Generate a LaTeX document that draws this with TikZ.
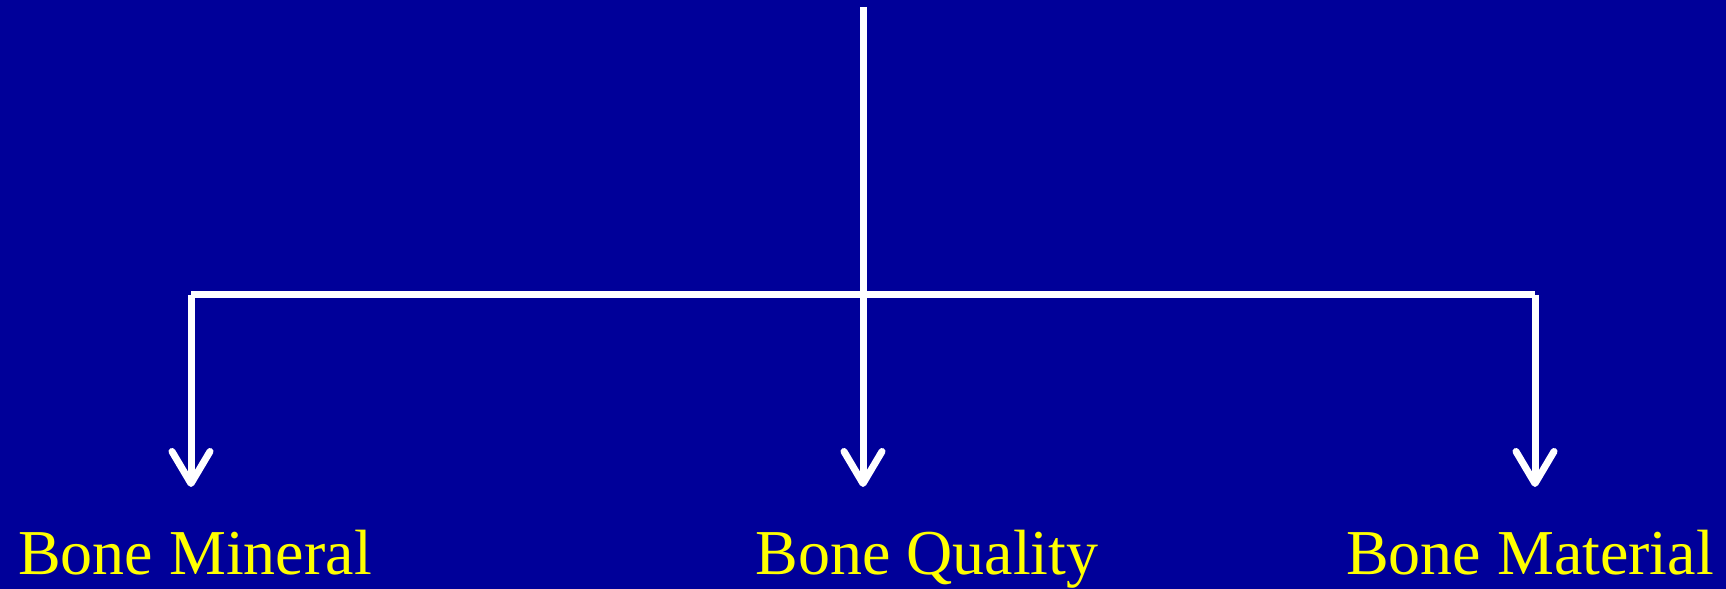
\documentclass[tikz,border=0pt]{standalone}
\usepackage{fontspec}
\setmainfont{Liberation Serif}
\usetikzlibrary{arrows.meta}
\definecolor{slideblue}{RGB}{0,0,153}
\definecolor{labelyellow}{RGB}{255,255,0}
\tikzset{
  branch/.style={white, line width=0.07cm},
  branchtip/.style={branch, -{Straight Barb[length=0.32cm,width=0.38cm,round]}},
  bonelabel/.style={anchor=base, inner sep=0pt, text=labelyellow, font=\fontsize{18.2}{20}\selectfont}
}
\begin{document}
\begin{tikzpicture}
  \fill[slideblue] (0,0) rectangle (17.26,5.89);
  \useasboundingbox (0,0) rectangle (17.26,5.89);
  \def\stemx{8.63} % main stem
  \def\bary{2.94}  % height of the cross bar
  \def\tipy{1.02}  % where the arrows stop
  \coordinate (top) at (\stemx,5.82);
  \foreach \name/\ax/\tx/\txt in {mineral/1.91/1.95/Bone Mineral,quality/8.63/9.27/Bone Quality,material/15.35/15.30/Bone Material} {
    \coordinate (\name-corner) at (\ax,\bary);
    \coordinate (\name-tip) at (\ax,\tipy);
    \node[bonelabel] (\name) at (\tx,0.14) {\txt};
  }
  \draw[branch] (mineral-corner) -- (material-corner);
  \draw[branchtip] (top) -- (quality-tip);
  \draw[branchtip] (mineral-corner) -- (mineral-tip);
  \draw[branchtip] (material-corner) -- (material-tip);
\end{tikzpicture}
\end{document}
